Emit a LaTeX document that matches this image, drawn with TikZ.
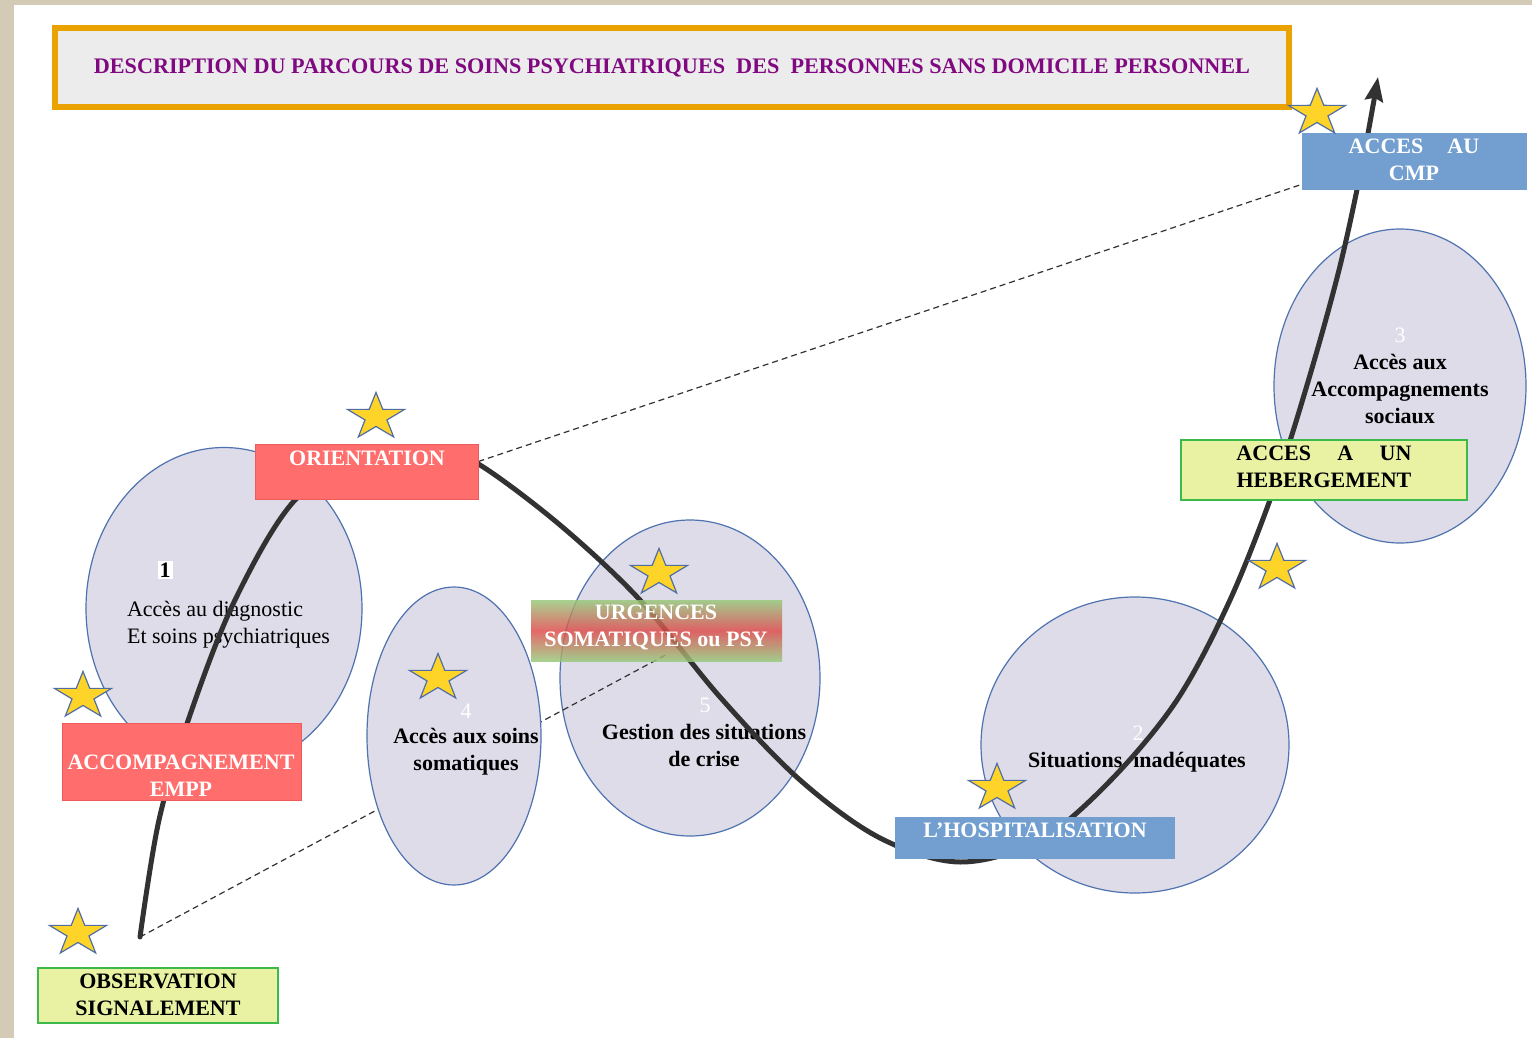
\documentclass[tikz,border=0pt]{standalone}
\usepackage{fontspec}
\setmainfont{Liberation Serif}
\usepackage{tikz}
\usetikzlibrary{positioning,shapes.geometric,arrows.meta}
\definecolor{PageBeige}{RGB}{211,203,181}
\definecolor{TitleOrange}{RGB}{234,162,0}
\definecolor{TitleGrey}{RGB}{236,236,236}
\definecolor{TitlePurple}{RGB}{128,8,128}
\definecolor{ZoneFill}{RGB}{221,220,232}
\definecolor{ZoneLine}{RGB}{79,114,176}
\definecolor{BoxRed}{RGB}{255,109,109}
\definecolor{RedLine}{RGB}{240,90,90}
\definecolor{BoxBlue}{RGB}{114,159,207}
\definecolor{BoxGreen}{RGB}{232,242,162}
\definecolor{GreenLine}{RGB}{60,185,75}
\definecolor{StarFill}{RGB}{255,212,40}
\definecolor{StarLine}{RGB}{80,110,165}
\definecolor{UrgGreen}{RGB}{150,200,120}
\definecolor{UrgRed}{RGB}{222,72,72}
\definecolor{CurveGrey}{RGB}{50,50,50}
\newcommand\pfont{\fontsize{11pt}{13.5pt}\selectfont}
\tikzset{>=Stealth}
\tikzset{
  zone/.style={ellipse, fill=ZoneFill, draw=ZoneLine, line width=0.6pt, inner sep=0pt},
  box/.style={rectangle, inner sep=0pt},
  redbox/.style={box, fill=BoxRed, draw=RedLine, line width=0.5pt},
  bluebox/.style={box, fill=BoxBlue},
  greenbox/.style={box, fill=BoxGreen, draw=GreenLine, line width=0.7pt},
  boxlabel/.style={font=\pfont\bfseries, text=white, align=center, inner sep=1pt},
  darklabel/.style={font=\pfont\bfseries, align=center, inner sep=1pt},
  numlabel/.style={font=\pfont, text=white, inner sep=1pt},
  etoile/.style={star, star points=5, star point ratio=2.6, minimum size=30pt, inner sep=0pt,
    yscale=0.82, fill=StarFill, draw=StarLine, line width=0.6pt},
  parcours/.style={draw=CurveGrey, line width=2.5pt, line cap=round, -{Stealth[length=12pt,width=9pt,inset=1.5pt]}},
  renvoi/.style={draw=CurveGrey, line width=0.6pt, dash pattern=on 3pt off 2pt},
}

\begin{document}
\begin{tikzpicture}[x=0.5pt, y=-0.5pt]
  \useasboundingbox (0,0) rectangle (1532,1038);
  \fill[PageBeige] (0,0) rectangle (1532,1038);
  \fill[white] (14,5) rectangle (1532,1038);

  \node[draw=TitleOrange, line width=3pt, fill=TitleGrey, minimum width=617pt, minimum height=39.5pt,
    text=TitlePurple, font=\fontsize{11.1pt}{13.5pt}\selectfont\bfseries] (titre) at (672,67.5)
    {DESCRIPTION DU PARCOURS DE SOINS PSYCHIATRIQUES\ \ DES\ \ PERSONNES SANS DOMICILE PERSONNEL};

  % les cinq zones du parcours
  \node[zone, minimum width=138pt, minimum height=161pt] (diag) at (224,608.5) {};
  \node[zone, minimum width=130pt, minimum height=158pt] (crise) at (690,678) {};
  \node[zone, minimum width=154pt, minimum height=148pt] (inadeq) at (1135,745) {};
  \node[zone, minimum width=126pt, minimum height=157pt] (social) at (1400,386) {};

  \node[darklabel, fill=white] (diag-num) at (165,570) {1};
  \node[font=\pfont, align=left, anchor=west] (diag-txt) at (120,625) {Accès au diagnostic\\Et soins psychiatriques};
  \node[numlabel] (crise-num) at (705,705) {5};
  \node[darklabel] (crise-txt) at (704,745) {Gestion des situations\\de crise};
  \node[numlabel] (inadeq-num) at (1138,733) {2};
  \node[darklabel] (inadeq-txt) at (1137,762) {Situations\ \ inadéquates};
  \node[numlabel] (social-num) at (1400,335) {3};
  \node[darklabel] (social-txt) at (1400,389) {Accès aux\\Accompagnements\\sociaux};

  \coordinate (depart) at (140,937);
  \coordinate (fin) at (1378,77);

  \node[box, minimum width=112.5pt, minimum height=28.5pt] (cmp) at (1414.5,161.5) {};
  \node[box, minimum width=111.5pt, minimum height=27.5pt] (orient) at (366.5,471.5) {};
  \node[box, minimum width=125.5pt, minimum height=30.5pt] (urg) at (656.5,630.5) {};

  \draw[renvoi] ([yshift=5pt]orient.east) -- ([yshift=3pt]cmp.south west);
  \draw[renvoi] (depart) -- ([xshift=6pt,yshift=4pt]urg.south);

  \node[zone, minimum width=87pt, minimum height=149pt] (soma) at (454,736) {};
  \node[numlabel] (soma-num) at (466,711) {4};
  \node[darklabel] (soma-txt) at (466,752) {Accès aux soins\\somatiques};

  \draw[parcours] plot[smooth, tension=0.55] coordinates {(depart) (159,820) (190,715) (235,600)
    (295,500) (370,455) (440,452) (480,465) (560,525) (640,600) (720,697) (800,780) (880,838)
    (960,862) (1040,840) (1110,781) (1177,700) (1230,600) (1275,486) (1310,375) (1340,266)
    (1362,165) (fin)};

  % les etapes
  \node[bluebox, minimum width=112.5pt, minimum height=28.5pt] (cmp) at (1414.5,161.5) {};
  \node[greenbox, minimum width=143pt, minimum height=30pt] (heberg) at (1324,470) {};
  \node[redbox, minimum width=111.5pt, minimum height=27.5pt] (orient) at (366.5,471.5) {};
  \node[redbox, minimum width=119.5pt, minimum height=38.5pt] (empp) at (181.5,761.5) {};
  \node[greenbox, minimum width=120pt, minimum height=27.5pt] (obs) at (158,995.5) {};
  \node[box, top color=UrgGreen, bottom color=UrgGreen, middle color=UrgRed, fill opacity=0.82,
    minimum width=125.5pt, minimum height=30.5pt] (urg) at (656.5,630.5) {};
  \node[bluebox, minimum width=140pt, minimum height=21pt] (hosp) at (1035,838) {};

  \node[boxlabel] (cmp-txt) at (1414,160) {ACCES\hspace{1.1em}AU\\CMP};
  \node[darklabel] (heberg-txt) at (1324,467) {ACCES\hspace{1.2em}A\hspace{1.2em}UN\\HEBERGEMENT};
  \node[boxlabel] (orient-txt) at (367,458) {ORIENTATION};
  \node[boxlabel] (empp-txt) at (181,776) {ACCOMPAGNEMENT\\EMPP};
  \node[darklabel] (obs-txt) at (158,995) {OBSERVATION\\SIGNALEMENT};
  \node[boxlabel] (urg-txt) at (656,627) {URGENCES\\SOMATIQUES ou PSY};
  \node[boxlabel] (hosp-txt) at (1035,830) {L’HOSPITALISATION};

  \foreach \sx/\sy [count=\i] in {376/417, 83/696, 78/933, 659/573, 438/678, 997/788, 1277/568, 1317/113}{
    \node[etoile] (etoile\i) at (\sx,\sy) {};
  }
\end{tikzpicture}
\end{document}
